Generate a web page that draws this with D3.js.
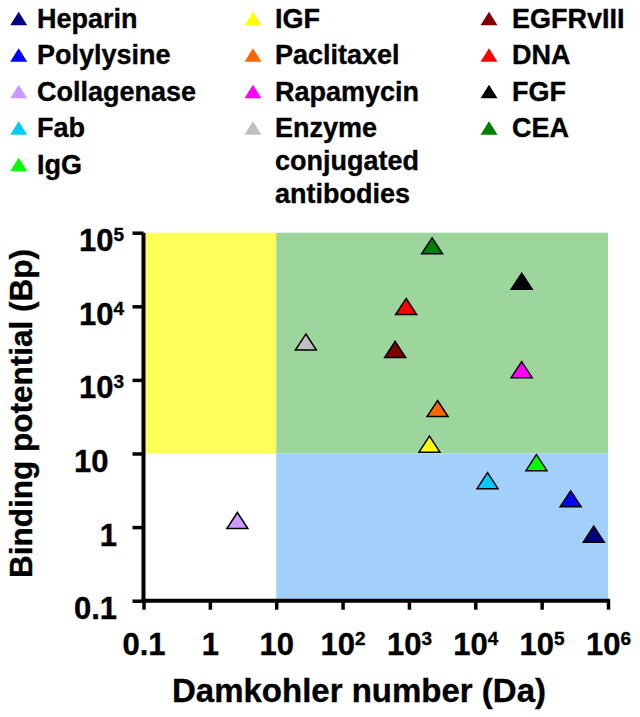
<!DOCTYPE html>
<html>
<head>
<meta charset="utf-8">
<script src="https://cdn.jsdelivr.net/npm/d3@7"></script>
<style>
  html, body { margin: 0; padding: 0; background: #fff; }
  text { font-family: "Liberation Sans", Arial, sans-serif; font-weight: bold; fill: #000; stroke: #000; stroke-width: 0.35px; }
</style>
</head>
<body>
<svg id="chart" width="640" height="717"></svg>
<script>
// ---- data ----
const categories = ["Heparin", "Polylysine", "Collagenase", "Fab", "IgG",
  "IGF", "Paclitaxel", "Rapamycin", "Enzyme conjugated antibodies",
  "EGFRvIII", "DNA", "FGF", "CEA"];
const damkohler = [610000, 274000, 2.6, 15300, 83500,
  2040, 2700, 50000, 28,
  620, 907, 50000, 2235];
const binding = [0.80, 2.42, 1.23, 4.27, 7.5,
  17.9, 167, 1376, 3270,
  2590, 9930, 21900, 66400];
const colors = ["#000080", "#0000ff", "#cc99ff", "#00ccff", "#00ff00",
  "#ffff00", "#ff6600", "#ff00ff", "#c0c0c0",
  "#800000", "#ff0000", "#000000", "#008000"];

const xTickValues = [0.1, 1, 10, 1e2, 1e3, 1e4, 1e5, 1e6];
const xTickLabels = ["0.1", "1", "10", "10^2", "10^3", "10^4", "10^5", "10^6"];
const yTickValues = [0.1, 1, 10, 1e3, 1e4, 1e5];
const yTickLabels = ["0.1", "1", "10\u00a0", "10^3", "10^4", "10^5"];

// background regions: [x0, x1, y0, y1]
const regionX0 = [0.1, 10, 10];
const regionX1 = [10, 1e6, 1e6];
const regionY0 = [10, 10, 0.1];
const regionY1 = [1e5, 1e5, 10];
const regionColors = ["#ffff59", "#9cd69c", "#a3d0fa"];

const xTitle = "Damkohler number (Da)";
const yTitle = "Binding potential (Bp)";

// ---- layout ----
const svg = d3.select("#chart");
const plotLeft = 143.5, plotRight = 608, plotBottom = 600.7, plotTop = 232.7;
const step = (plotBottom - plotTop) / 5;

const x = d3.scaleLog().domain([0.1, 1e6]).range([plotLeft, plotRight]);
// axis ticks are evenly spaced as in the original (0.1, 1, 10, 10^3, 10^4, 10^5)
const y = d3.scaleLog().domain([0.1, 10, 1e3, 1e5])
  .range([plotBottom, plotBottom - 2 * step, plotBottom - 3 * step, plotTop]);

// backgrounds
svg.append("g").selectAll("rect")
  .data(regionColors)
  .join("rect")
  .attr("x", (d, i) => x(regionX0[i]))
  .attr("width", (d, i) => x(regionX1[i]) - x(regionX0[i]))
  .attr("y", (d, i) => y(regionY1[i]))
  .attr("height", (d, i) => y(regionY0[i]) - y(regionY1[i]))
  .attr("fill", d => d);

function addLabel(sel, labels) {
  sel.selectAll(".tick text").each(function (d, i) {
    const t = d3.select(this).text(null);
    const parts = labels[i].split("^");
    t.append("tspan").text(parts[0]);
    if (parts[1]) t.append("tspan").attr("dy", -10).attr("font-size", 19).text(parts[1]);
  });
}

// x axis
const gx = svg.append("g").attr("transform", `translate(0,${plotBottom})`)
  .call(d3.axisBottom(x).tickValues(xTickValues).tickSize(9).tickSizeOuter(0).tickFormat(() => ""));
gx.select(".domain").attr("stroke-width", 4).attr("d", `M${plotLeft - 2},0H${plotRight + 2}`);
gx.selectAll(".tick line").attr("stroke-width", 3.5);
gx.selectAll(".tick text").attr("font-size", 31).attr("y", 54).attr("dy", 0)
  .attr("font-family", "Liberation Sans, Arial, sans-serif").attr("font-weight", "bold");
addLabel(gx, xTickLabels);

// y axis
const gy = svg.append("g").attr("transform", `translate(${plotLeft},0)`)
  .call(d3.axisLeft(y).tickValues(yTickValues).tickSize(11).tickSizeOuter(0).tickFormat(() => ""));
gy.select(".domain").attr("stroke-width", 4).attr("d", `M0,${plotTop}V${plotBottom + 2}`);
gy.selectAll(".tick line").attr("stroke-width", 3.5);
gy.selectAll(".tick text").attr("font-size", 31).attr("dy", 0).attr("y", 18)
  .attr("x", (d, i) => yTickLabels[i].includes("^") ? -19.5 : -26.5)
  .attr("font-family", "Liberation Sans, Arial, sans-serif").attr("font-weight", "bold");
addLabel(gy, yTickLabels);

// axis titles
svg.append("text").attr("x", 359).attr("y", 702).attr("text-anchor", "middle")
  .attr("font-size", 33).text(xTitle);
svg.append("text").attr("transform", "rotate(-90)").attr("x", -413.5).attr("y", 32)
  .attr("text-anchor", "middle").attr("font-size", 31.5).text(yTitle);

// points
const tri = (w, h) => `M0,${-h / 2}L${w / 2},${h / 2}L${-w / 2},${h / 2}Z`;
svg.append("g").selectAll("path")
  .data(categories)
  .join("path")
  .attr("d", tri(21, 16))
  .attr("transform", (d, i) => `translate(${x(damkohler[i])},${y(binding[i])})`)
  .attr("fill", (d, i) => colors[i])
  .attr("stroke", "#000")
  .attr("stroke-width", 1.5)
  .attr("stroke-linejoin", "miter");

// legend
const colTriX = [18.7, 253, 489];
const colTextX = [37, 275, 512];
const colOf = i => (i < 5 ? 0 : i < 9 ? 1 : 2);
const rowOf = i => (i < 5 ? i : i < 9 ? i - 5 : i - 9);
const legendLines = { "Enzyme conjugated antibodies": ["Enzyme", "conjugated", "antibodies"] };
const leg = svg.append("g");
categories.forEach((c, i) => {
  const col = colOf(i), row = rowOf(i);
  const base = 27.5 + row * 36.5;
  leg.append("path").attr("d", tri(17, 13.5))
    .attr("transform", `translate(${colTriX[col]},${base - 9})`)
    .attr("fill", colors[i]);
  const lines = legendLines[c] || [c];
  const t = leg.append("text").attr("font-size", 27).attr("x", colTextX[col]).attr("y", base);
  lines.forEach((l, k) => {
    t.append("tspan").attr("x", colTextX[col]).attr("dy", k === 0 ? 0 : 33).text(l);
  });
});
</script>
</body>
</html>
